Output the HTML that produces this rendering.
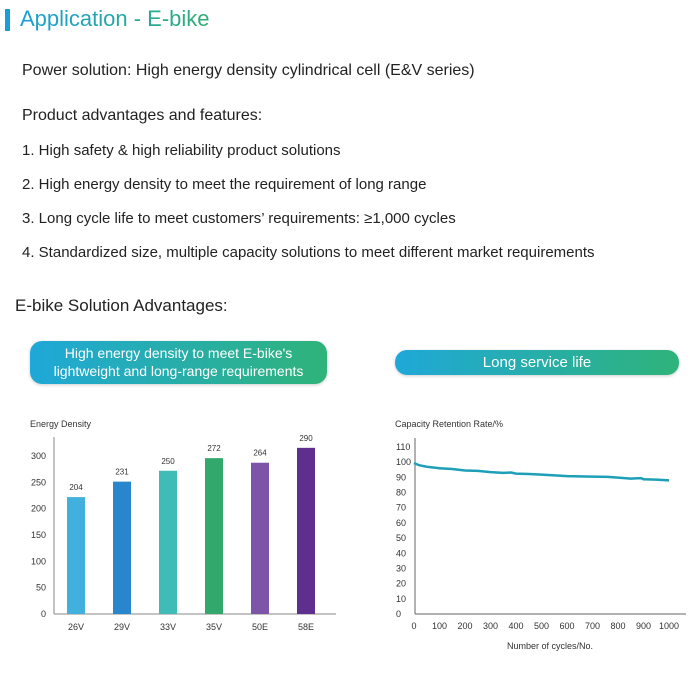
<!DOCTYPE html>
<html><head><meta charset="utf-8"><style>
body{margin:0;width:699px;height:673px;background:#fff;font-family:"Liberation Sans",sans-serif;color:#222;position:relative;overflow:hidden}
.a{position:absolute;white-space:nowrap}
.t{font-size:15px}
.pill{position:absolute;border-radius:12px;background:linear-gradient(90deg,#1fa8d8,#2fb37a);color:#fff;text-align:center;box-shadow:0 1px 3px rgba(0,0,0,.2)}
svg text{font-family:"Liberation Sans",sans-serif;fill:#333}
</style></head><body>
<div class="a" style="left:5px;top:9px;width:5px;height:22px;background:#1a9ed8"></div>
<div class="a" style="left:20px;top:6px;font-size:22px;background:linear-gradient(90deg,#1a9ed8,#2fae74);-webkit-background-clip:text;color:transparent">Application - E-bike</div>
<div class="a t" style="left:22px;top:62px;font-size:16px">Power solution: High energy density cylindrical cell (E&amp;V series)</div>
<div class="a t" style="left:22px;top:107px;font-size:16px">Product advantages and features:</div>
<div class="a t" style="left:22px;top:142px">1. High safety &amp; high reliability product solutions</div>
<div class="a t" style="left:22px;top:176px">2. High energy density to meet the requirement of long range</div>
<div class="a t" style="left:22px;top:210px">3. Long cycle life to meet customers’ requirements: ≥1,000 cycles</div>
<div class="a t" style="left:22px;top:244px">4. Standardized size, multiple capacity solutions to meet different market requirements</div>
<div class="a" style="left:15px;top:296px;font-size:17px">E-bike Solution Advantages:</div>
<div class="pill" style="left:30px;top:341px;width:297px;height:43px;font-size:14px;line-height:18px;padding-top:3px;box-sizing:border-box">High energy density to meet E-bike's<br>lightweight and long-range requirements</div>
<div class="pill" style="left:395px;top:350px;width:284px;height:25px;font-size:15px;line-height:25px">Long service life</div>
<svg id="bar" class="a" style="left:0;top:0" width="350" height="673"></svg>
<svg id="line" class="a" style="left:0;top:0" width="699" height="673"></svg>
<script>
const barCats=["26V","29V","33V","35V","50E","58E"];
const barVals=[204,231,250,272,264,290];
const barTicks=[0,50,100,150,200,250,300];
const lineX=[0,20,50,100,150,200,250,300,350,380,400,450,500,560,600,700,760,800,850,890,900,950,1000];
const lineY=[99.5,98,97,96,95.5,94.5,94.3,93.5,93,93.2,92.5,92.2,91.8,91.2,90.8,90.5,90.3,89.8,89.2,89.5,88.8,88.5,88];
const lineTicksY=[0,10,20,30,40,50,60,70,80,90,100,110];
const lineTicksX=[0,100,200,300,400,500,600,700,800,900,1000];
const NS="http://www.w3.org/2000/svg";
function mk(p,t,a){const e=document.createElementNS(NS,t);for(const k in a)e.setAttribute(k,a[k]);p.appendChild(e);return e;}
// bar chart
const b=document.getElementById('bar');
const bx=i=>76+i*46, by=v=>614-v*0.573, tickY=v=>614-v*0.527;
let e=mk(b,'text',{x:30,y:427,'font-size':9});e.textContent="Energy Density";


mk(b,'line',{x1:54,y1:437,x2:54,y2:614,stroke:'#888'});
mk(b,'line',{x1:54,y1:614,x2:336,y2:614,stroke:'#888'});
barTicks.forEach(v=>{const t=mk(b,'text',{x:46,y:tickY(v)+3,'font-size':9,'text-anchor':'end'});t.textContent=v;

});
const cols=["#42b0dc","#2a86cc","#3fbcb8","#33a86c","#7c55a8","#5e2f8c"];
barVals.forEach((v,i)=>{const r=mk(b,'rect',{x:bx(i)-9,y:by(v),width:18,height:614-by(v),fill:cols[i]});


const l=mk(b,'text',{x:bx(i),y:by(v)-7,'font-size':8,'text-anchor':'middle'});l.textContent=v;


const c=mk(b,'text',{x:bx(i),y:630,'font-size':9,'text-anchor':'middle'});c.textContent=barCats[i];

});
// line chart
const L=document.getElementById('line');
const lx=v=>414+v*0.255, ly=v=>614-v*1.518;
e=mk(L,'text',{x:395,y:427,'font-size':9});e.textContent="Capacity Retention Rate/%";


e=mk(L,'text',{x:550,y:649,'font-size':9,'text-anchor':'middle'});e.textContent="Number of cycles/No.";


mk(L,'line',{x1:415,y1:438,x2:415,y2:614,stroke:'#666'});
mk(L,'line',{x1:415,y1:614,x2:686,y2:614,stroke:'#666'});
lineTicksY.forEach(v=>{const t=mk(L,'text',{x:396,y:ly(v)+3,'font-size':9});t.textContent=v;

});
lineTicksX.forEach(v=>{const t=mk(L,'text',{x:lx(v),y:629,'font-size':9,'text-anchor':'middle'});t.textContent=v;

});
const p=mk(L,'polyline',{points:lineX.map((x,i)=>lx(x)+','+ly(lineY[i])).join(' '),fill:'none',stroke:'#1e9fb8','stroke-width':2.5});


</script>
</body></html>
